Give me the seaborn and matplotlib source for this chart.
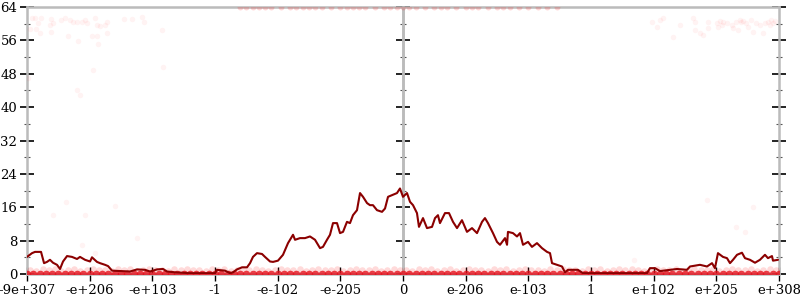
import matplotlib
matplotlib.use("Agg")
import matplotlib.pyplot as plt
import seaborn as sns

# ---- data ----
tick_pos = [-6, -5, -4, -3, -2, -1, 0, 1, 2, 3, 4, 5, 6]
tick_labels = ["-9e+307", "-e+206", "-e+103", "-1", "-e-102", "-e-205", "0",
               "e-206", "e-103", "1", "e+102", "e+205", "e+308"]
y_major = [0, 8, 16, 24, 32, 40, 48, 56, 64]
y_minor = [4, 12, 20, 28, 36, 44, 52, 60]

line_x = [-6.000, -5.920, -5.872, -5.776, -5.728, -5.681, -5.633, -5.585, -5.521, -5.473,
          -5.425, -5.361, -5.282, -5.202, -5.154, -5.074, -4.994, -4.963, -4.883, -4.835,
          -4.755, -4.707, -4.643, -4.516, -4.356, -4.244, -4.117, -4.037, -3.925, -3.830,
          -3.766, -3.638, -3.399, -3.239, -3.000, -2.968, -2.840, -2.761, -2.713, -2.649,
          -2.569, -2.489, -2.441, -2.394, -2.330, -2.250, -2.202, -2.122, -2.074, -1.995,
          -1.915, -1.835, -1.755, -1.723, -1.644, -1.564, -1.484, -1.404, -1.324, -1.277,
          -1.213, -1.165, -1.117, -1.053, -1.005, -0.957, -0.894, -0.846, -0.798, -0.734,
          -0.686, -0.638, -0.574, -0.527, -0.479, -0.415, -0.335, -0.287, -0.239, -0.176,
          -0.096, -0.048, 0.000, 0.064, 0.112, 0.160, 0.223, 0.255, 0.319, 0.383,
          0.463, 0.511, 0.558, 0.590, 0.670, 0.734, 0.798, 0.862, 0.941, 1.021,
          1.101, 1.181, 1.261, 1.308, 1.356, 1.436, 1.500, 1.548, 1.628, 1.660,
          1.675, 1.755, 1.819, 1.867, 1.915, 1.995, 2.058, 2.138, 2.218, 2.298,
          2.346, 2.378, 2.457, 2.537, 2.585, 2.633, 2.792, 2.872, 3.144, 3.463,
          3.893, 3.941, 4.021, 4.101, 4.372, 4.532, 4.580, 4.659, 4.739, 4.851,
          4.931, 4.978, 5.026, 5.106, 5.170, 5.218, 5.266, 5.330, 5.409, 5.457,
          5.537, 5.617, 5.696, 5.776, 5.824, 5.888, 5.904, 5.984]
line_y = [4.1, 5.0, 5.3, 5.3, 2.6, 2.9, 3.4, 2.7, 2.2, 1.2,
          3.0, 4.3, 4.1, 3.6, 4.1, 3.4, 3.0, 4.0, 2.9, 2.6,
          2.2, 1.9, 0.8, 0.7, 0.6, 1.1, 1.0, 0.6, 1.1, 1.2,
          0.6, 0.4, 0.2, 0.2, 0.2, 1.0, 0.8, 0.2, 0.4, 1.1,
          1.6, 1.6, 2.6, 4.1, 5.0, 4.8, 4.1, 3.0, 2.9, 3.2,
          4.6, 7.4, 9.4, 8.2, 8.6, 8.6, 9.0, 8.2, 6.2, 6.5,
          8.2, 9.4, 12.2, 12.2, 9.8, 10.1, 12.5, 12.2, 14.1, 15.3,
          19.4, 18.5, 17.0, 16.5, 16.5, 15.3, 14.9, 15.7, 18.5, 18.9,
          19.4, 20.5, 18.5, 19.4, 17.3, 16.5, 14.6, 11.3, 13.4, 11.0,
          11.3, 13.4, 14.1, 12.2, 14.6, 14.6, 12.5, 11.0, 12.9, 10.1,
          11.0, 9.8, 12.5, 13.4, 12.2, 9.8, 7.7, 7.0, 8.6, 7.0,
          10.1, 9.8, 9.0, 9.8, 7.0, 7.7, 6.5, 7.4, 6.2, 5.3,
          5.0, 2.6, 2.2, 1.8, 0.4, 1.0, 1.0, 0.2, 0.2, 0.2,
          0.2, 1.4, 1.4, 0.7, 1.2, 1.0, 1.8, 2.0, 2.2, 1.8,
          2.6, 1.4, 5.0, 4.1, 3.8, 2.6, 3.4, 4.6, 5.1, 3.8,
          3.4, 2.7, 3.4, 4.6, 3.8, 4.3, 3.2, 3.4]

# faint scatter points (upper clusters and sparse)
pts_x = [-5.925, -5.87, -5.82, -5.77, -5.61, -5.58, -5.63, -5.45, -5.39, -5.31,
         -5.26, -5.21, -5.13, -5.07, -5.05, -4.91, -4.89, -4.83, -4.75, -4.73,
         -4.46, -4.33, -4.17, -4.14, -3.85, -5.95, -5.85, -5.79, -5.61, -5.34,
         -5.18, -4.97, -4.89, -4.86, -4.73, -4.95, -3.83, -5.20, -5.15, -5.98,
         3.97, 4.05, 4.10, 4.15, 4.31, 4.42, 4.63, 4.66, 4.66, 4.74,
         4.79, 4.87, 4.87, 5.01, 5.03, 5.06, 5.09, 5.11, 5.17, 5.25,
         5.27, 5.32, 5.35, 5.38, 5.40, 5.43, 5.48, 5.51, 5.56, 5.59,
         5.64, 5.70, 5.75, 5.78, 5.83, 5.86, 5.88, 5.91, 5.93,
         -5.37, -5.58, -5.07, -4.60, -5.13, -4.91, -4.25, 3.68, 4.85, 5.59, 5.32, 5.46]
pts_y = [61.3, 61.3, 60.1, 61.3, 61.1, 60.1, 59.7, 60.9, 61.3, 60.9,
         60.5, 60.5, 60.5, 60.9, 60.1, 61.3, 59.7, 59.5, 59.7, 60.3,
         61.1, 61.1, 61.6, 60.5, 58.5, 58.7, 58.7, 57.7, 58.1, 57.1,
         55.9, 57.1, 57.1, 55.2, 57.7, 48.8, 49.5, 44.1, 42.9, 46.9,
         60.3, 59.3, 60.9, 61.3, 56.9, 59.7, 61.3, 60.5, 58.5, 57.7,
         57.3, 60.5, 58.9, 60.1, 59.3, 60.7, 59.7, 60.5, 60.1, 59.7,
         58.9, 60.5, 58.5, 60.9, 60.3, 60.7, 60.1, 59.3, 60.9, 58.1,
         60.1, 59.7, 57.7, 60.1, 60.5, 59.7, 60.9, 60.1, 60.7,
         17.3, 14.1, 14.1, 16.3, 7.0, 5.0, 8.6, 3.4, 17.7, 16.1, 11.2, 10.1]

# dense row at zero
zero_x = [-6.0, -5.9, -5.8, -5.7, -5.6, -5.5, -5.4, -5.3, -5.2, -5.1, -5.0, -4.9, -4.8,
          -4.7, -4.6, -4.5, -4.4, -4.3, -4.2, -4.1, -4.0, -3.9, -3.8, -3.7, -3.6, -3.5,
          -3.4, -3.3, -3.2, -3.1, -3.0, -2.9, -2.8, -2.7, -2.6, -2.5, -2.4, -2.3, -2.2,
          -2.1, -2.0, -1.9, -1.8, -1.7, -1.6, -1.5, -1.4, -1.3, -1.2, -1.1, -1.0, -0.9,
          -0.8, -0.7, -0.6, -0.5, -0.4, -0.3, -0.2, -0.1, 0.0, 0.1, 0.2, 0.3, 0.4, 0.5,
          0.6, 0.7, 0.8, 0.9, 1.0, 1.1, 1.2, 1.3, 1.4, 1.5, 1.6, 1.7, 1.8, 1.9, 2.0,
          2.1, 2.2, 2.3, 2.4, 2.5, 2.6, 2.7, 2.8, 2.9, 3.0, 3.1, 3.2, 3.3, 3.4, 3.5,
          3.6, 3.7, 3.8, 3.9, 4.0, 4.1, 4.2, 4.3, 4.4, 4.5, 4.6, 4.7, 4.8, 4.9, 5.0,
          5.1, 5.2, 5.3, 5.4, 5.5, 5.6, 5.7, 5.8, 5.9, 6.0]

# lighter band just above zero
low_x = [-5.95, -5.85, -5.75, -5.65, -5.55, -5.45, -5.35, -5.25, -5.15, -5.05, -4.95,
         -4.85, -4.75, -4.65, -4.55, -4.45, -4.35, -4.25, -4.15, -4.05, -3.95, -3.85,
         -3.75, -3.65, -3.55, -3.45, -3.35, -3.25, -3.15, -3.05, -2.95, -2.85, -2.75,
         -2.65, -2.55, -2.45, -2.35, -2.25, -2.15, -2.05, -1.95, -1.85, -1.75, -1.65,
         -1.55, -1.45, -1.35, -1.25, -1.15, -1.05, -0.95, -0.85, -0.75, -0.65, -0.55,
         -0.45, -0.35, -0.25, -0.15, -0.05, 0.05, 0.15, 0.25, 0.35, 0.45, 0.55, 0.65,
         0.75, 0.85, 0.95, 1.05, 1.15, 1.25, 1.35, 1.45, 1.55, 1.65, 1.75, 1.85, 1.95,
         2.05, 2.15, 2.25, 2.35, 2.45, 2.55, 2.65, 2.75, 2.85, 2.95, 3.05, 3.15, 3.25,
         3.35, 3.45, 3.55, 3.65, 3.75, 3.85, 3.95, 4.05, 4.15, 4.25, 4.35, 4.45, 4.55,
         4.65, 4.75, 4.85, 4.95, 5.05, 5.15, 5.25, 5.35, 5.45, 5.55, 5.65, 5.75, 5.85,
         5.95]
low_y = [1.0, 0.8, 1.2, 0.9, 1.1, 0.7, 1.0, 1.3, 0.8, 1.0, 1.2,
         0.9, 1.0, 0.7, 1.1, 1.0, 1.3, 0.8, 1.0, 1.2, 0.9, 1.0,
         0.8, 1.1, 1.0, 1.2, 0.9, 1.0, 0.7, 1.1, 1.0, 1.2, 0.8,
         1.0, 1.1, 0.9, 1.3, 1.0, 0.8, 1.0, 1.2, 0.9, 1.0, 1.1,
         0.8, 1.0, 1.2, 0.9, 1.0, 1.1, 0.8, 1.0, 1.3, 0.9, 1.0,
         1.2, 0.8, 1.0, 1.1, 0.9, 1.0, 0.8, 1.2, 0.9, 1.1, 0.7, 1.0,
         1.3, 0.8, 1.0, 1.2, 0.9, 1.0, 0.7, 1.1, 1.0, 1.3, 0.8, 1.0, 1.2,
         0.9, 1.0, 0.8, 1.1, 1.0, 1.2, 0.9, 1.0, 0.7, 1.1, 1.0, 1.2, 0.8,
         1.0, 1.1, 0.9, 1.3, 1.0, 0.8, 1.0, 1.2, 0.9, 1.0, 1.1, 0.8, 1.0,
         1.2, 0.9, 1.0, 1.1, 0.8, 1.0, 1.3, 0.9, 1.0, 1.2, 0.8, 1.0, 1.1,
         0.9]

# points clipped at the top edge
top_x = [-2.6, -2.5, -2.4, -2.3, -2.2, -2.1, -1.95, -1.8, -1.7, -1.6, -1.5, -1.4,
         -1.3, -1.15, -1.0, -0.9, -0.8, -0.7, -0.6, -0.45, -0.3, -0.2, -0.1, 0.0,
         0.1, 0.2, 0.35, 0.5, 0.6, 0.7, 0.85, 1.0, 1.1, 1.2, 1.35, 1.5, 1.6, 1.7,
         1.85, 2.0, 2.15, 2.3, 2.45]
top_y = [64] * len(top_x)

# ---- plot ----
sns.set_theme(style="white")
plt.rcParams["font.family"] = ["DejaVu Serif"]

fig = plt.figure(figsize=(8, 3), dpi=100)
ax = fig.add_axes([27 / 800, 1 - 274 / 300, (779 - 27) / 800, (274 - 7) / 300])

red = "#ff1a1a"
sns.scatterplot(x=zero_x, y=[0] * len(zero_x), ax=ax, color="#e3101c", alpha=0.8,
                s=30, linewidth=0, zorder=2)
sns.scatterplot(x=low_x, y=low_y, ax=ax, color=red, alpha=0.16, s=22,
                linewidth=0, zorder=2)
sns.scatterplot(x=top_x, y=top_y, ax=ax, color=red, alpha=0.18, s=18,
                linewidth=0, zorder=2)
sns.scatterplot(x=pts_x, y=pts_y, ax=ax, color=red, alpha=0.05, s=16,
                linewidth=0, zorder=2)

sns.lineplot(x=line_x, y=line_y, ax=ax, color="#8b0000", linewidth=1.5,
             sort=False, estimator=None, zorder=4)

ax.set_xlim(-6, 6)
ax.set_ylim(0, 64)

for s in ax.spines.values():
    s.set_color("#bbbbbb")
    s.set_linewidth(1.8)
    s.set_zorder(1)
ax.axvline(0, color="#bbbbbb", linewidth=1.8, zorder=1)

ax.set_xticks(tick_pos)
ax.set_xticklabels(tick_labels)
ax.set_yticks(y_major)
ax.set_yticks(y_minor, minor=True)

ax.tick_params(axis="x", which="major", bottom=True, direction="inout", length=10,
               width=1, color="black", labelsize=9.5, pad=2, labelcolor="black")
ax.tick_params(axis="y", which="major", left=True, right=True, direction="inout",
               length=10, width=1.2, color="black", labelsize=9.5, pad=2,
               labelcolor="black")
ax.tick_params(axis="y", which="minor", left=True, right=True, direction="inout",
               length=5, width=0.8, color="#555555")

sec = ax.secondary_yaxis(0.5)
sec.set_yticks(y_major)
sec.set_yticks(y_minor, minor=True)
sec.tick_params(axis="y", which="major", direction="inout", length=10, width=1.2,
                color="black", labelleft=False, labelright=False)
sec.tick_params(axis="y", which="minor", direction="inout", length=5, width=0.8,
                color="#555555")
for s in sec.spines.values():
    s.set_color("#bbbbbb")
    s.set_linewidth(1.8)

ax.set_xlabel("")
ax.set_ylabel("")
ax.grid(False)

fig.savefig("out.png", dpi=100)
